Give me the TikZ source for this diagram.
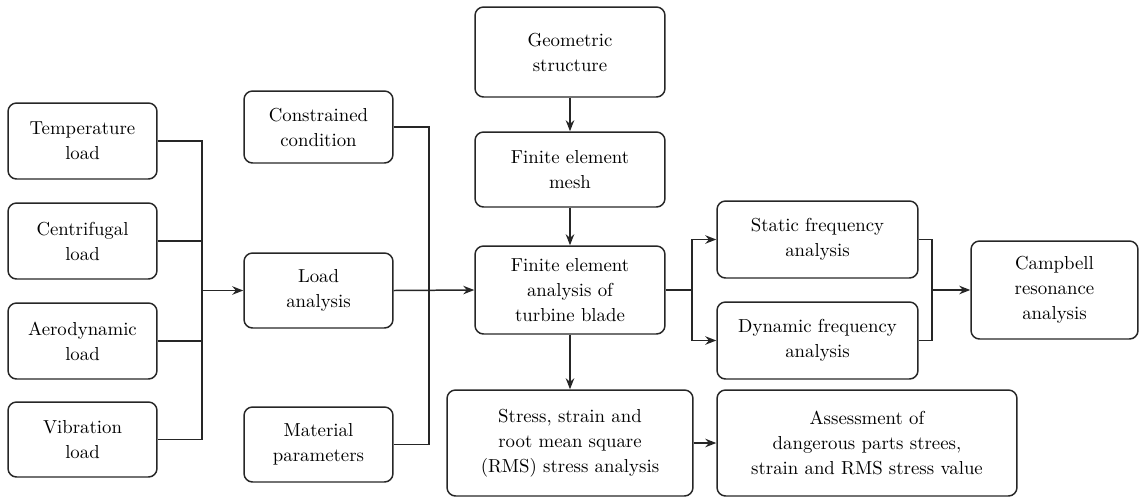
\documentclass[tikz,border=0pt]{standalone}
\usetikzlibrary{arrows.meta}

\begin{document}
\begin{tikzpicture}[x=0.02cm,y=-0.02cm,line width=0.85pt,
    blk/.style={draw=black!85,rounded corners=0.17cm,align=center,inner sep=0pt,
      font=\fontsize{10.7}{14.2}\selectfont},
    arr/.style={-{Stealth[length=0.22cm,width=0.17cm]}}]
                \useasboundingbox (0,0) rectangle (1140,498);
                \node[blk,minimum width=2.98cm,minimum height=1.52cm] (temp) at (82.5,141) {Temperature\\load};
                \node[blk,minimum width=2.98cm,minimum height=1.52cm] (centri) at (82.5,241) {Centrifugal\\load};
                \node[blk,minimum width=2.98cm,minimum height=1.52cm] (aero) at (82.5,341) {Aerodynamic\\load};
                \node[blk,minimum width=2.98cm,minimum height=1.5cm] (vib) at (82.5,439.5) {Vibration\\load};
                \node[blk,minimum width=2.98cm,minimum height=1.44cm] (constr) at (318.5,127) {Constrained\\condition};
                \node[blk,minimum width=2.98cm,minimum height=1.5cm] (load) at (318.5,290.5) {Load\\analysis};
                \node[blk,minimum width=2.98cm,minimum height=1.5cm] (mat) at (318.5,444.5) {Material\\parameters};
                \node[blk,minimum width=3.8cm,minimum height=1.8cm] (geo) at (570,52) {Geometric\\structure};
                \node[blk,minimum width=3.8cm,minimum height=1.5cm] (mesh) at (570,169.5) {Finite element\\mesh};
                \node[blk,minimum width=3.8cm,minimum height=1.76cm] (fea) at (570,290) {Finite element\\analysis of\\turbine blade};
                \node[blk,minimum width=4.02cm,minimum height=1.54cm] (static) at (817.5,239.5) {Static frequency\\analysis};
                \node[blk,minimum width=4.02cm,minimum height=1.54cm] (dyn) at (817.5,340.5) {Dynamic frequency\\analysis};
                \node[blk,minimum width=3.34cm,minimum height=1.96cm] (camp) at (1054.5,290) {Campbell\\resonance\\analysis};
                \node[blk,minimum width=4.92cm,minimum height=2.12cm] (stress) at (570,443) {Stress, strain and\\root mean square\\(RMS) stress analysis};
                \node[blk,minimum width=6cm,minimum height=2.12cm] (assess) at (867,443) {Assessment of\\dangerous parts strees,\\strain and RMS stress value};
                \coordinate (jL) at (202,290.5);
                \coordinate (jM) at (429,290.5);
                \coordinate (jR) at (692,290);
                \coordinate (jC) at (932,290);
                \begin{scope}[draw=black!85]
                \draw (temp.east) -| (jL) |- (vib.east);
                \draw (centri.east) -- (centri.east -| jL);
                \draw (aero.east) -- (aero.east -| jL);
                \draw[arr] (jL) -- (load.west);
                \draw (constr.east) -| (jM) |- (mat.east);
                \draw[arr] (load.east) -- (fea.west);
                \draw[arr] (geo.south) -- (mesh.north);
                \draw[arr] (mesh.south) -- (fea.north);
                \draw[arr] (fea.south) -- (stress.north);
                \draw (fea.east) -- (jR);
                \draw[arr] (jR) |- (static.west);
                \draw[arr] (jR) |- (dyn.west);
                \draw (static.east) -| (jC) |- (dyn.east);
                \draw[arr] (jC) -- (camp.west);
                \draw[arr] (stress.east) -- (assess.west);
                \end{scope}
            \end{tikzpicture}
\end{document}
